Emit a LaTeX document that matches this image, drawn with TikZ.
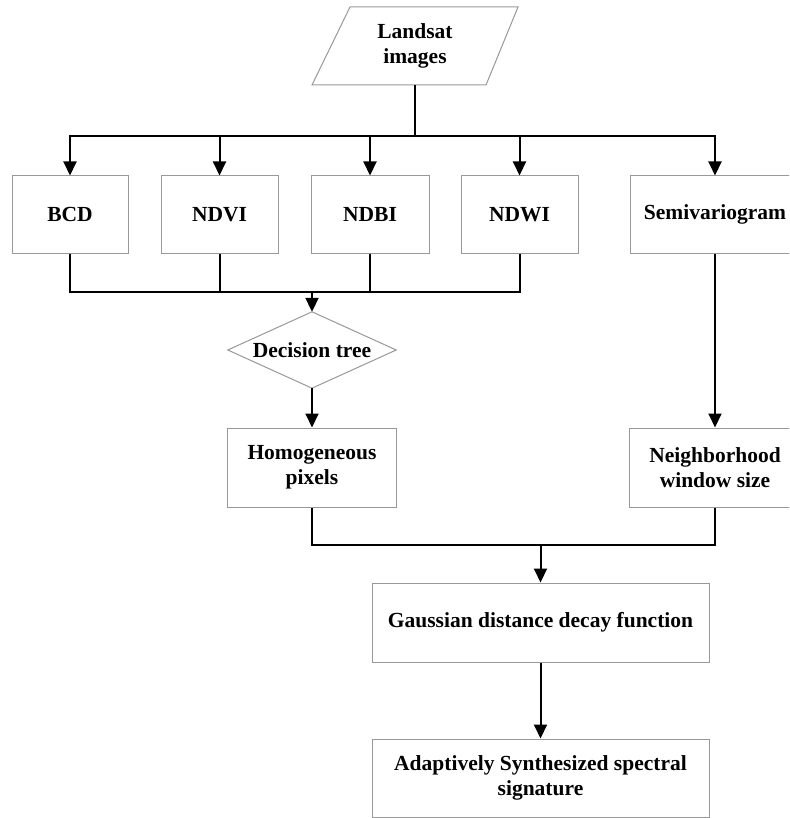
\documentclass[tikz,border=0pt]{standalone}
\usepackage{fontspec}
\setmainfont{Liberation Serif}
\usetikzlibrary{arrows.meta}
\definecolor{boxgray}{HTML}{999999}
\begin{document}
\begin{tikzpicture}[x=1pt,y=-1pt,
  txt/.style={font=\bfseries\fontsize{21.5}{25}\selectfont, align=center, inner sep=0pt},
  box/.style={txt, draw=boxgray, line width=1pt, fill=white},
  ghost/.style={txt},
  wire/.style={line width=2pt, black},
  arr/.style={wire, -{Triangle[length=14pt,width=13pt]}}]
\useasboundingbox (0,0) rectangle (789,818);
\clip (0,0) rectangle (789,818);
\fill[white] (0,0) rectangle (789,818);

% Landsat parallelogram
\node[ghost, minimum width=170pt, minimum height=78pt] (land) at (415,46) {Landsat\\images};
\draw[boxgray, line width=1pt] (312,85) -- (350,7) -- (518,7) -- (486,85) -- cycle;

% first row
\node[box, minimum width=116pt, minimum height=77pt] (bcd) at (70,214.5) {BCD};
\node[box, minimum width=117pt, minimum height=77pt] (ndvi) at (219.5,214.5) {NDVI};
\node[box, minimum width=118pt, minimum height=77pt] (ndbi) at (370,214.5) {NDBI};
\node[box, minimum width=117pt, minimum height=77pt] (ndwi) at (519.5,214.5) {NDWI};
\node[box, minimum width=170pt, minimum height=77pt] (semi) at (715,214.5) {Semivariogram};

% decision tree diamond
\node[ghost, minimum width=168pt, minimum height=76pt] (dt) at (312,350) {Decision tree};
\draw[boxgray, line width=1pt] (dt.west) -- (dt.north) -- (dt.east) -- (dt.south) -- cycle;

\node[box, minimum width=169pt, minimum height=79pt] (homo) at (312,467.5) {Homogeneous\\pixels};
\node[box, minimum width=172pt, minimum height=79pt] (neigh) at (715,467.5) {Neighborhood\\window size};

\node[box, minimum width=337pt, minimum height=79pt] (gauss) at (540.5,622.5) {Gaussian distance decay function};
\node[box, minimum width=337pt, minimum height=78pt] (adapt) at (540.5,778) {Adaptively Synthesized spectral\\signature};

% connectors
\coordinate (hub) at (415,136);
\draw[wire] (land.south) -- (hub);
\draw[arr] (hub) -| (bcd.north);
\draw[arr] (hub) -| (ndvi.north);
\draw[arr] (hub) -| (ndbi.north);
\draw[arr] (hub) -| (ndwi.north);
\draw[arr] (hub) -| (semi.north);

\coordinate (merge) at (312,292);
\draw[wire] (bcd.south) |- (merge);
\draw[wire] (ndvi.south) |- (merge);
\draw[wire] (ndbi.south) |- (merge);
\draw[wire] (ndwi.south) |- (merge);
\draw[arr] (merge) -- (dt.north);

\draw[arr] (dt.south) -- (homo.north);
\draw[arr] (semi.south) -- (neigh.north);

\coordinate (join) at (540.5,545);
\draw[wire] (homo.south) |- (join);
\draw[wire] (neigh.south) |- (join);
\draw[arr] (join) -- (gauss.north);
\draw[arr] (gauss.south) -- (adapt.north);
\end{tikzpicture}
\end{document}
